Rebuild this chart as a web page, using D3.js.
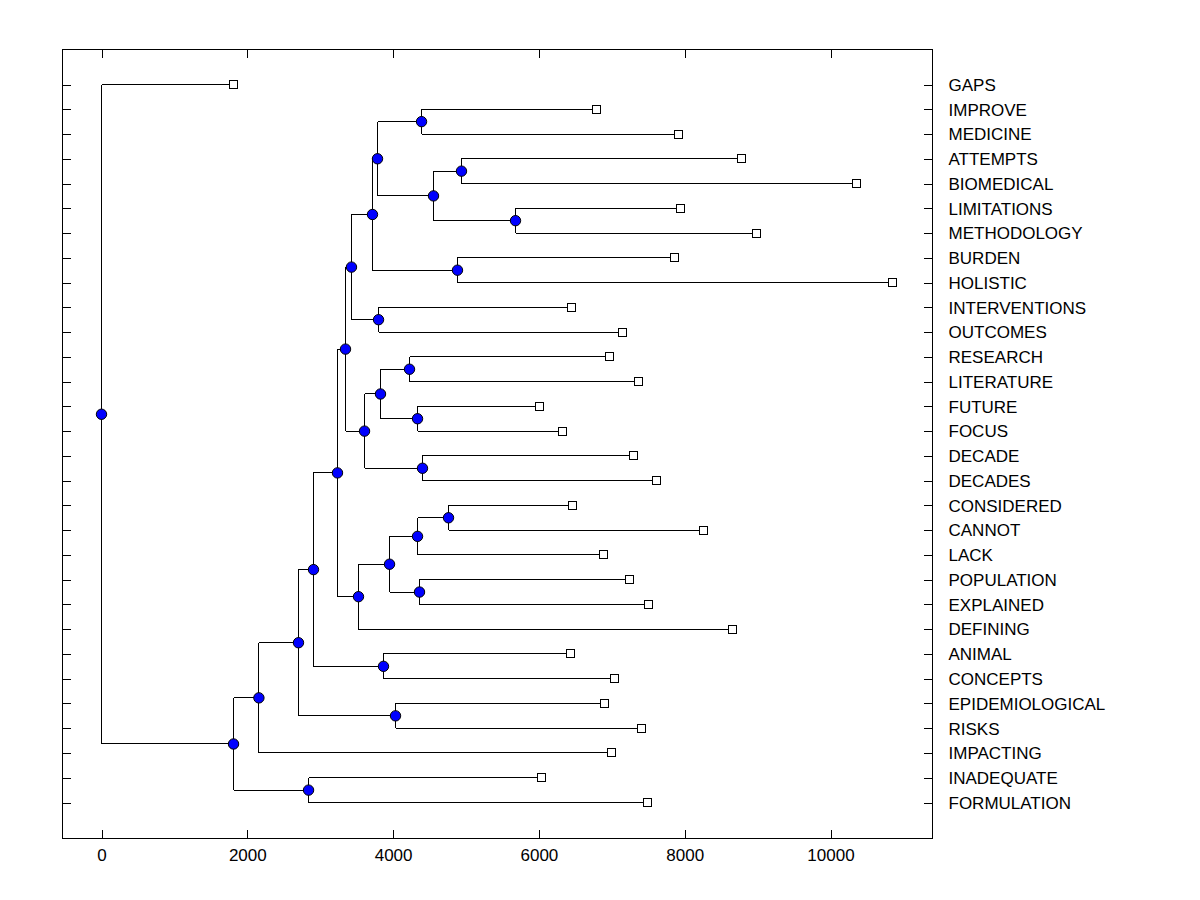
<!DOCTYPE html>
<html>
<head>
<meta charset="utf-8">
<script src="https://cdn.jsdelivr.net/npm/d3@7"></script>
<style>
  body { margin: 0; background: #fff; }
</style>
</head>
<body>
<div id="chart"></div>
<script>
// leaves, top to bottom, with the value where each leaf square sits
const leafNames = [
  "GAPS", "IMPROVE", "MEDICINE", "ATTEMPTS", "BIOMEDICAL", "LIMITATIONS",
  "METHODOLOGY", "BURDEN", "HOLISTIC", "INTERVENTIONS", "OUTCOMES",
  "RESEARCH", "LITERATURE", "FUTURE", "FOCUS", "DECADE", "DECADES",
  "CONSIDERED", "CANNOT", "LACK", "POPULATION", "EXPLAINED", "DEFINING",
  "ANIMAL", "CONCEPTS", "EPIDEMIOLOGICAL", "RISKS", "IMPACTING",
  "INADEQUATE", "FORMULATION"
];
const leafValues = [
  1811, 6790, 7915, 8779, 10357, 7942,
  8985, 7860, 10850, 6447, 7147,
  6968, 7366, 6008, 6324, 7298, 7613,
  6461, 8258, 6886, 7243, 7503, 8656,
  6433, 7037, 6900, 7407, 6996,
  6036, 7490
];

// merges, bottom up: id, left child, right child, node value
const mergeIds = [
  "n1", "n2", "n3", "n4", "n5", "n6", "n7", "n8", "n9", "n10",
  "n11", "n12", "n13", "n14", "n15", "n16", "n17", "n18", "n19", "n20",
  "n21", "n22", "n23", "n24", "n25", "n26", "n27", "n28", "n29"
];
const mergeLeft = [
  "IMPROVE", "ATTEMPTS", "LIMITATIONS", "n2", "n1", "BURDEN", "n5", "INTERVENTIONS", "n7", "RESEARCH",
  "FUTURE", "n10", "DECADE", "n12", "n9", "CONSIDERED", "n16", "POPULATION", "n17", "n19",
  "n15", "ANIMAL", "n21", "EPIDEMIOLOGICAL", "n23", "n25", "INADEQUATE", "n26", "GAPS"
];
const mergeRight = [
  "MEDICINE", "BIOMEDICAL", "METHODOLOGY", "n3", "n4", "HOLISTIC", "n6", "OUTCOMES", "n8", "LITERATURE",
  "FOCUS", "n11", "DECADES", "n13", "n14", "CANNOT", "LACK", "EXPLAINED", "n18", "DEFINING",
  "n20", "CONCEPTS", "n22", "RISKS", "n24", "IMPACTING", "FORMULATION", "n27", "n28"
];
const mergeValues = [
  4390, 4938, 5679, 4554, 3786, 4883, 3717, 3800, 3429, 4225,
  4335, 3827, 4403, 3608, 3347, 4760, 4335, 4362, 3951, 3525,
  3237, 3868, 2908, 4033, 2702, 2159, 2840, 1811, 0
];

const xTicks = [0, 2000, 4000, 6000, 8000, 10000];

const width = 1200;
const height = 900;
const frame = { left: 62.5, top: 49.5, right: 932.5, bottom: 838.5 };

// build the tree from the merge lists
const lookup = {};
leafNames.forEach((name, i) => {
  lookup[name] = { name: name, value: leafValues[i], index: i };
});
mergeIds.forEach((id, i) => {
  lookup[id] = {
    name: id,
    value: mergeValues[i],
    children: [lookup[mergeLeft[i]], lookup[mergeRight[i]]]
  };
});
const root = d3.hierarchy(lookup[mergeIds[mergeIds.length - 1]]);

const x = d3.scaleLinear().domain([-535, 11399]).range([frame.left, frame.right]);
const y = d3.scaleLinear().domain([0, leafNames.length - 1]).range([84.5, 802.5]);

// leaf rows from their index, inner nodes at the middle of their children
root.eachAfter((d) => {
  d.px = x(d.data.value);
  if (d.children) {
    d.py = d3.mean(d.children, (c) => c.py);
  } else {
    d.py = y(d.data.index);
  }
});

const svg = d3
  .select("#chart")
  .append("svg")
  .attr("width", width)
  .attr("height", height)
  .style("font-family", "'Liberation Sans', Arial, sans-serif");

svg.append("rect").attr("width", width).attr("height", height).attr("fill", "#fff");

// ! Axes (ticks point inward)
const bottomAxis = d3
  .axisBottom(x)
  .tickValues(xTicks)
  .tickFormat(d3.format("d"))
  .tickSizeInner(-9)
  .tickSizeOuter(0)
  .tickPadding(10);
const topAxis = d3.axisTop(x).tickValues(xTicks).tickSizeInner(-8).tickSizeOuter(0).tickFormat("");
const leftAxis = d3.axisLeft(y).tickValues(d3.range(leafNames.length)).tickSizeInner(-8).tickSizeOuter(0).tickFormat("");
const rightAxis = d3
  .axisRight(y)
  .tickValues(d3.range(leafNames.length))
  .tickSizeInner(-9)
  .tickSizeOuter(0)
  .tickPadding(16)
  .tickFormat((i) => leafNames[i]);

function styleAxis(g) {
  g.select(".domain").remove();
  g.selectAll("line").attr("stroke", "#000").attr("shape-rendering", "crispEdges");
  g.selectAll("text").attr("fill", "#000").style("font-size", "17px");
}

svg.append("g").attr("transform", `translate(0,${frame.bottom})`).call(bottomAxis).call(styleAxis);
svg.append("g").attr("transform", `translate(0,${frame.top})`).call(topAxis).call(styleAxis);
svg.append("g").attr("transform", `translate(${frame.left},0)`).call(leftAxis).call(styleAxis);
svg
  .append("g")
  .attr("transform", `translate(${frame.right},0)`)
  .call(rightAxis)
  .call(styleAxis)
  .selectAll("text")
  .attr("dy", "0.34em");

svg
  .append("rect")
  .attr("x", frame.left)
  .attr("y", frame.top)
  .attr("width", frame.right - frame.left)
  .attr("height", frame.bottom - frame.top)
  .attr("fill", "none")
  .attr("stroke", "#000")
  .attr("shape-rendering", "crispEdges");

// ! Dendrogram links
const links = svg
  .append("g")
  .attr("stroke", "#000")
  .attr("stroke-width", 1)
  .attr("fill", "none")
  .attr("shape-rendering", "crispEdges");

root.descendants().forEach((d) => {
  if (!d.children) return;
  const [a, b] = d.children;
  links.append("line").attr("x1", d.px).attr("x2", d.px).attr("y1", a.py).attr("y2", b.py);
  d.children.forEach((c) => {
    links.append("line").attr("x1", d.px).attr("x2", c.px).attr("y1", c.py).attr("y2", c.py);
  });
});

// leaf squares
svg
  .append("g")
  .selectAll("rect")
  .data(root.leaves())
  .join("rect")
  .attr("x", (d) => d.px - 4)
  .attr("y", (d) => d.py - 4)
  .attr("width", 8)
  .attr("height", 8)
  .attr("fill", "#fff")
  .attr("stroke", "#000")
  .attr("shape-rendering", "crispEdges");

// inner node circles
svg
  .append("g")
  .selectAll("circle")
  .data(root.descendants().filter((d) => d.children))
  .join("circle")
  .attr("cx", (d) => d.px)
  .attr("cy", (d) => d.py)
  .attr("r", 5.2)
  .attr("fill", "#0000ff")
  .attr("stroke", "#000")
  .attr("stroke-width", 1);
</script>
</body>
</html>
